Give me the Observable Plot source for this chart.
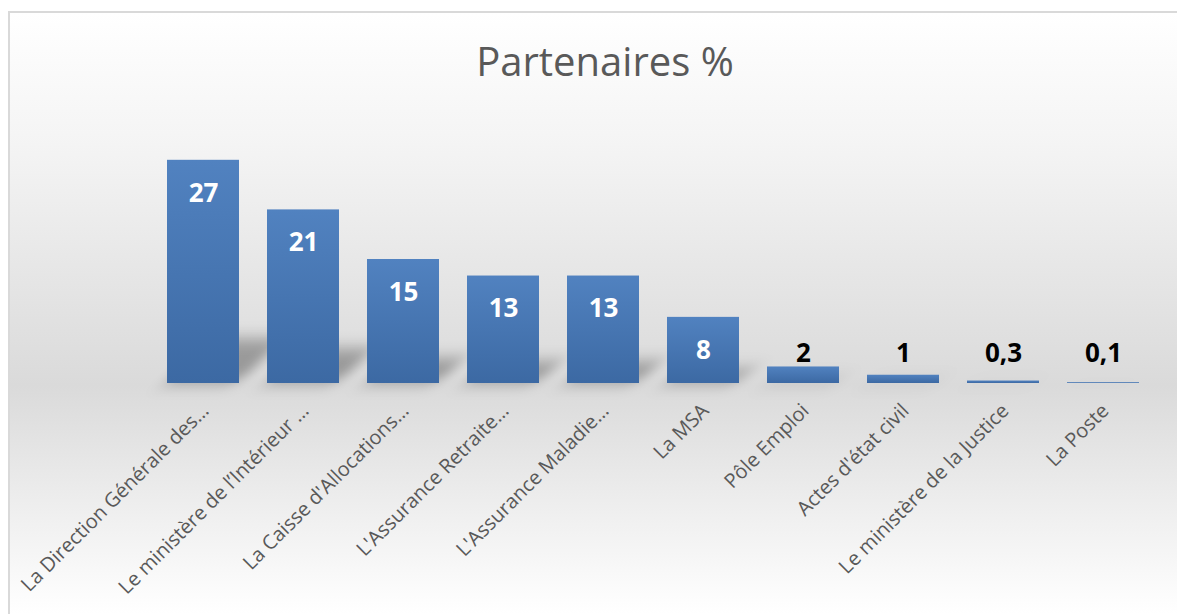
<!DOCTYPE html>
<html>
<head>
<meta charset="utf-8">
<script src="https://cdn.jsdelivr.net/npm/d3@7"></script>
<script src="https://cdn.jsdelivr.net/npm/@observablehq/plot@0.6"></script>
<style>
  html, body { margin: 0; padding: 0; background: #ffffff; overflow: hidden; }
  #frame {
    position: absolute; left: 8px; top: 11px; width: 1167px; height: 601px;
    border-top: 2px solid #d9d9d9; border-left: 2px solid #d9d9d9;
    background: linear-gradient(to bottom, #ffffff 0%, #f4f4f4 22%, #e5e5e5 45%, #dadada 62%, #ececec 80%, #ffffff 100%);
  }
  #title {
    position: absolute; left: 595px; top: 28px; transform: translateX(-50%);
    font-family: "Open Sans", sans-serif; font-size: 40px; line-height: 40px;
    color: #595959; white-space: nowrap;
  }
  #chart { position: absolute; left: 0; top: 0; }
</style>
</head>
<body>
<div id="frame">
  <div id="title">Partenaires %</div>
  <div id="chart"></div>
</div>
<script>
const categories = [
  "La Direction Générale des…",
  "Le ministère de l’Intérieur …",
  "La Caisse d'Allocations…",
  "L'Assurance Retraite…",
  "L'Assurance Maladie…",
  "La MSA",
  "Pôle Emploi",
  "Actes d'état civil",
  "Le ministère de la Justice",
  "La Poste"
];
const values = [27, 21, 15, 13, 13, 8, 2, 1, 0.3, 0.1];
const valueLabels = ["27", "21", "15", "13", "13", "8", "2", "1", "0,3", "0,1"];

const data = categories.map((name, i) => ({ name, value: values[i], label: valueLabels[i] }));
const big = data.filter(d => d.value >= 5);
const small = data.filter(d => d.value < 5);

const plot = Plot.plot({
  width: 1167,
  height: 601,
  marginLeft: 142,
  marginRight: 23,
  marginTop: 122,
  marginBottom: 231,
  style: { fontFamily: "Open Sans, sans-serif", background: "transparent", overflow: "visible" },
  x: { domain: categories, paddingInner: 0.28, paddingOuter: 0.14, label: null },
  y: { domain: [0, 30], axis: null },
  marks: [
    Plot.barY(data, { x: "name", y: d => d.value * 0.2, fill: "#000", fillOpacity: 0.3, className: "shadow" }),
    Plot.barY(data, { x: "name", y: "value", fill: "url(#barGrad)", className: "bars" }),
    Plot.axisX({ tickRotate: -45, tickSize: 0, tickPadding: 24, fontSize: 20, fill: "#595959", label: null, dx: 2 }),
    Plot.text(big, { x: "name", y: "value", text: "label", dy: 33, fill: "#ffffff", fontSize: 26, fontWeight: "bold" }),
    Plot.text(small, { x: "name", text: "label", frameAnchor: "bottom", dy: -22, fill: "#000000", fontSize: 26, fontWeight: "bold" })
  ]
});

const svg = d3.select(plot);
const defs = svg.insert("defs", ":first-child");
const grad = defs.append("linearGradient").attr("id", "barGrad").attr("x1", 0).attr("y1", 0).attr("x2", 0).attr("y2", 1);
grad.append("stop").attr("offset", "0%").attr("stop-color", "#5182c0");
grad.append("stop").attr("offset", "100%").attr("stop-color", "#3c69a3");
const blur = defs.append("filter").attr("id", "shadowBlur").attr("x", "-50%").attr("y", "-50%").attr("width", "200%").attr("height", "200%");
blur.append("feGaussianBlur").attr("stdDeviation", 8);

const base = plot.scale("y").apply(0);
svg.selectAll("g.shadow")
  .attr("filter", "url(#shadowBlur)")
  .attr("transform", `translate(0,${base}) skewX(-45) translate(0,${-base})`);

document.getElementById("chart").appendChild(plot);
</script>
</body>
</html>
